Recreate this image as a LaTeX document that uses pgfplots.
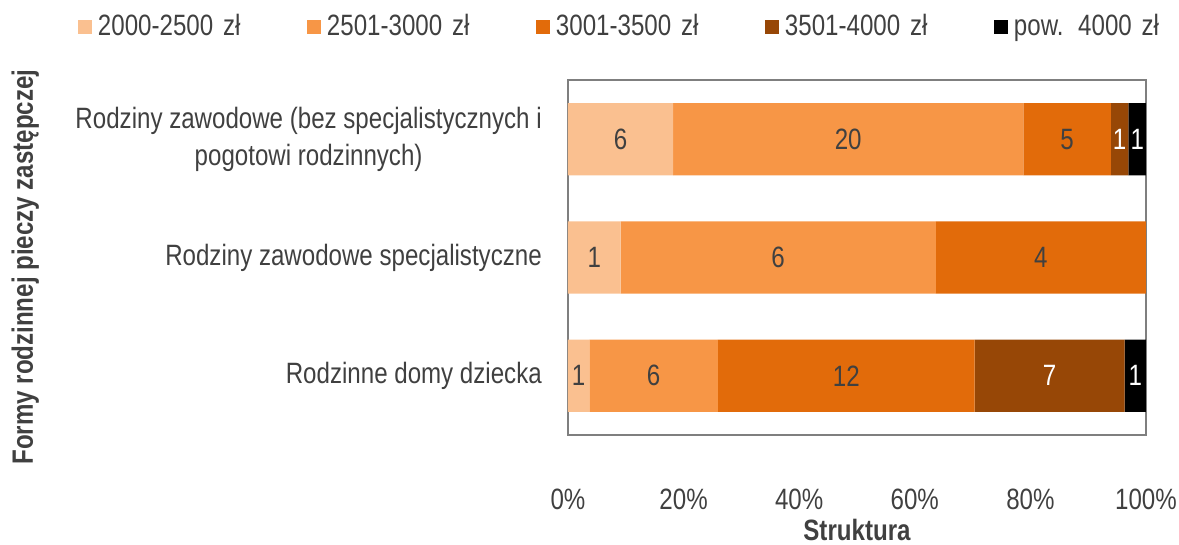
\documentclass[border=0pt]{standalone}
\usepackage{fontspec}
\setmainfont{Liberation Sans}[FakeStretch=0.82]
\usepackage{pgfplots}
\pgfplotsset{compat=1.18}
\definecolor{cA}{HTML}{FAC090}
\definecolor{cB}{HTML}{F79646}
\definecolor{cC}{HTML}{E26B0A}
\definecolor{cD}{HTML}{974706}
\definecolor{cE}{HTML}{000000}
\definecolor{txt}{HTML}{404040}
\definecolor{frm}{HTML}{7F7F7F}
\begin{document}
\fontsize{14.7pt}{17pt}\selectfont
\begin{tikzpicture}
\useasboundingbox (-284pt,-55pt) rectangle (305.5pt,217.5pt);
\begin{axis}[
  at={(0,0)}, anchor=south west,
  scale only axis, width=289pt, height=177.5pt,
  xbar stacked, bar width=0.61,
  xmin=0, xmax=100, ymin=-0.5, ymax=2.5,
  enlargelimits=false,
  font=\fontsize{14.7pt}{16pt}\selectfont,
  every tick label/.append style={text=txt},
  xtick={0,20,40,60,80,100},
  xticklabels={0\%,20\%,40\%,60\%,80\%,100\%},
  xtick style={draw=none},
  xticklabel style={yshift=-22pt},
  ytick={0,1,2},
  yticklabels={Rodzinne domy dziecka, Rodziny zawodowe specjalistyczne, {Rodziny zawodowe (bez specjalistycznych i\\[1.5pt]pogotowi rodzinnych)}},
  ytick style={draw=none},
  yticklabel style={align=center, xshift=-8pt, font=\fontsize{14.7pt}{17pt}\selectfont},
  extra y ticks={-0.5,0.5,1.5,2.5},
  extra y tick labels={},
  extra y tick style={major tick length=5pt, tick style={draw=frm, line width=0.8pt}, tick align=outside},
  axis line style={draw=frm, line width=0.8pt},
  tick pos=left,
  xlabel={\bfseries Struktura},
  ylabel={\bfseries Formy rodzinnej pieczy zastępczej},
  every axis x label/.style={at={(axis description cs:0.5,-0.2985)}, anchor=base, text=txt},
  every axis y label/.style={at={(axis description cs:-0.939,0.473)}, anchor=center, rotate=90, text=txt},
  legend columns=5,
  legend style={draw=none, fill=none, inner sep=0pt, outer sep=0pt,
    at={(axis description cs:-0.8478,1.149)}, anchor=west,
    nodes={text width=101.5pt, align=left, inner xsep=3pt, text=txt, font=\fontsize{14.7pt}{16pt}\selectfont},
    /tikz/every even column/.append style={column sep=0pt}},
  legend image code/.code={\fill[#1,draw=none] (0pt,-3.5pt) rectangle (7pt,3.5pt);},
]
\addplot[fill=cA, draw=none] coordinates {(18.18,2) (9.09,1) (3.70,0)};
\addplot[fill=cB, draw=none] coordinates {(60.61,2) (54.55,1) (22.22,0)};
\addplot[fill=cC, draw=none] coordinates {(15.15,2) (36.36,1) (44.44,0)};
\addplot[fill=cD, draw=none] coordinates {(3.03,2) (0,1) (25.93,0)};
\addplot[fill=cE, draw=none] coordinates {(3.03,2) (0,1) (3.70,0)};
\legend{2000-2500 zł, 2501-3000 zł, 3001-3500 zł, 3501-4000 zł, pow. 4000 zł}
\end{axis}
\begin{axis}[
  at={(0,0)}, anchor=south west,
  scale only axis, width=289pt, height=177.5pt,
  xmin=0, xmax=100, ymin=-0.5, ymax=2.5,
  hide axis, clip=false,
  point meta=explicit symbolic,
  nodes near coords,
  every node near coord/.append style={anchor=center, font=\fontsize{14.7pt}{16pt}\selectfont},
]
\addplot[only marks, mark=none, nodes near coords style={text=txt}] coordinates {
  (9.09,2)[6] (48.48,2)[20] (86.36,2)[5]
  (4.55,1)[1] (36.36,1)[6] (81.82,1)[4]
  (1.85,0)[1] (14.81,0)[6] (48.15,0)[12]};
\addplot[only marks, mark=none, nodes near coords style={text=white}] coordinates {
  (95.45,2)[1] (98.48,2)[1] (83.33,0)[7] (98.15,0)[1]};
\end{axis}
\end{tikzpicture}
\end{document}
